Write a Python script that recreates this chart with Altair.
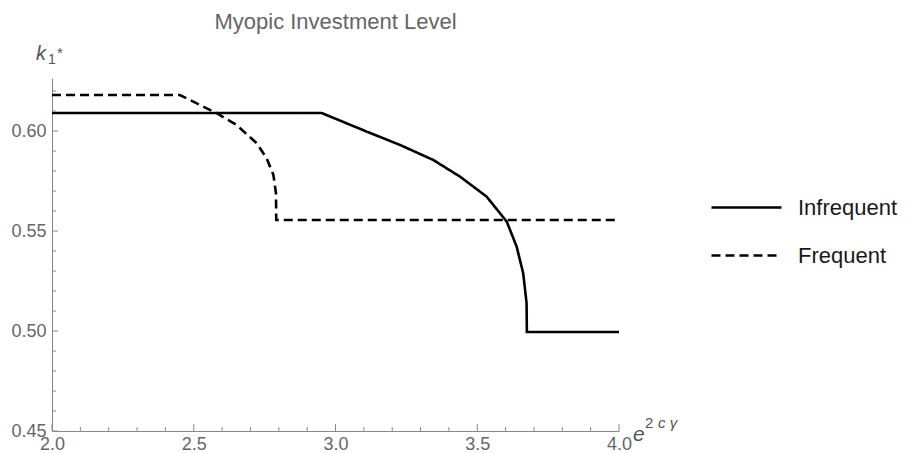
import altair as alt
import pandas as pd

# ---- data ----
inf_x = [2.0, 2.951, 3.110, 3.228, 3.345, 3.439, 3.533, 3.604, 3.639, 3.662, 3.674, 3.675, 4.0]
inf_y = [0.609, 0.609, 0.5997, 0.593, 0.5855, 0.5772, 0.5672, 0.5547, 0.5422, 0.5289, 0.5139, 0.4995, 0.4995]
freq_x = [2.0, 2.451, 2.581, 2.651, 2.722, 2.757, 2.781, 2.790, 2.791, 4.0]
freq_y = [0.618, 0.618, 0.6089, 0.603, 0.5939, 0.5864, 0.578, 0.5689, 0.5555, 0.5555]
series = ["Infrequent", "Frequent"]

x_major = [2.0, 2.5, 3.0, 3.5, 4.0]
x_minor = [2.1, 2.2, 2.3, 2.4, 2.6, 2.7, 2.8, 2.9, 3.1, 3.2, 3.3, 3.4, 3.6, 3.7, 3.8, 3.9]
y_major = [0.45, 0.50, 0.55, 0.60]
y_minor = [0.46, 0.47, 0.48, 0.49, 0.51, 0.52, 0.53, 0.54, 0.56, 0.57, 0.58, 0.59, 0.61, 0.62]

X_DOM = [2.0, 4.0]
Y_DOM = [0.45, 0.6265]
W, H = 567, 353
FONT = "Liberation Sans"
AXC = "#888888"

rows = []
for i, (x, y) in enumerate(zip(inf_x, inf_y)):
    rows.append({"x": x, "y": y, "s": series[0], "o": i})
for i, (x, y) in enumerate(zip(freq_x, freq_y)):
    rows.append({"x": x, "y": y, "s": series[1], "o": i})
df = pd.DataFrame(rows)

xs = alt.Scale(domain=X_DOM, nice=False, zero=False)
ys = alt.Scale(domain=Y_DOM, nice=False, zero=False)

lines = alt.Chart(df).mark_line(color="black", strokeWidth=2.6, strokeCap="butt").encode(
    x=alt.X("x:Q", scale=xs, axis=alt.Axis(
        values=x_major, format=".1f", ticks=False, grid=False, title=None,
        domainColor=AXC, labelColor="#666666", labelFont=FONT, labelFontSize=18,
        labelPadding=4, labelFlush=False)),
    y=alt.Y("y:Q", scale=ys, axis=alt.Axis(
        values=y_major, format=".2f", ticks=False, grid=False, title=None,
        domainColor=AXC, labelColor="#666666", labelFont=FONT, labelFontSize=18,
        labelPadding=6, labelFlush=False)),
    strokeDash=alt.StrokeDash("s:N", scale=alt.Scale(domain=series, range=[[1, 0], [9, 5]]),
        legend=alt.Legend(title=None, orient="none", legendX=658, legendY=93,
                          symbolType="stroke", symbolSize=4900, symbolStrokeWidth=2.6,
                          symbolStrokeColor="black", labelFont=FONT, labelFontSize=22,
                          labelColor="#1a1a1a", labelOffset=15, rowPadding=-1)),
    order="o:Q",
)

# inward tick marks drawn through the scales
xt = pd.DataFrame({"v": x_major + x_minor,
                   "top": [0.45 + 0.0035] * len(x_major) + [0.45 + 0.002] * len(x_minor)})
yt = pd.DataFrame({"v": y_major + y_minor,
                   "right": [2.0 + 0.021] * len(y_major) + [2.0 + 0.014] * len(y_minor)})
xticks = alt.Chart(xt).mark_rule(color=AXC, strokeWidth=1).encode(
    x=alt.X("v:Q", scale=xs), y=alt.Y("b:Q", scale=ys), y2="top:Q"
).transform_calculate(b="0.45")
yticks = alt.Chart(yt).mark_rule(color=AXC, strokeWidth=1).encode(
    y=alt.Y("v:Q", scale=ys), x=alt.X("l:Q", scale=xs), x2="right:Q"
).transform_calculate(l="2.0")

def txt(t, x, y, size, italic=False, color="#555555"):
    return alt.Chart(pd.DataFrame({"t": [t]})).mark_text(
        align="left", baseline="alphabetic", font=FONT, fontSize=size,
        fontStyle="italic" if italic else "normal", color=color
    ).encode(text="t:N", x=alt.value(x), y=alt.value(y))

labels = [
    txt("k", -16, -18, 20, True),
    txt("1", -4, -14, 14),
    txt("*", 5, -20, 15),
    txt("e", 581, 363, 21, True),
    txt("2", 593, 350, 15),
    txt("c γ", 606, 350, 15, True),
]

chart = alt.layer(lines, xticks, yticks, *labels).properties(
    width=W, height=H,
    title=alt.Title("Myopic Investment Level", fontSize=22, color="#666666", font=FONT,
                    fontWeight="normal", anchor="middle", frame="group", offset=10),
    autosize="none",
    padding={"left": 44, "top": 70, "right": 284, "bottom": 22},
).configure_view(stroke=None)

chart.save("out.html", embed_options={"renderer": "svg", "actions": False})
